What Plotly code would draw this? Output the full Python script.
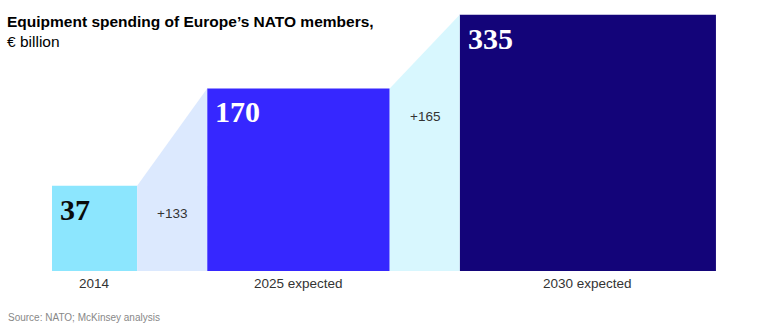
import math
import plotly.graph_objects as go

# Data
categories = ["2014", "2025 expected", "2030 expected"]
values = [37, 170, 335]
increments = ["+133", "+165"]
bar_colors = ["#8ce6fe", "#3627ff", "#130479"]
value_colors = ["#0a0a0a", "#ffffff", "#ffffff"]
bridge_colors = ["#dce9fe", "#d8f7fe"]

# Each bar is a square whose side is proportional to sqrt(value)
PX = 14.0            # pixels per axis unit (same on both axes)
GAP = 5.0            # axis units between neighbouring squares
W, H = 784, 336
X0_PX, BASE_PX = 52, 271

sides = [math.sqrt(v) for v in values]
lefts = []
pos = 0.0
for s in sides:
    lefts.append(pos)
    pos += s + GAP
centers = [l + s / 2 for l, s in zip(lefts, sides)]
rights = [l + s for l, s in zip(lefts, sides)]

fig = go.Figure()

# Bridging trapezoids between consecutive squares
for i in range(len(values) - 1):
    fig.add_trace(go.Scatter(
        x=[rights[i], rights[i], lefts[i + 1], lefts[i + 1]],
        y=[0, sides[i], sides[i + 1], 0],
        fill="toself", fillcolor=bridge_colors[i],
        line=dict(width=0), mode="lines", hoverinfo="skip",
    ))

fig.add_trace(go.Bar(
    x=centers, y=sides, width=sides, base=0,
    marker=dict(color=bar_colors, line=dict(width=0)),
    hoverinfo="skip",
))

annotations = []
for c, l, s, v, col, cat in zip(centers, lefts, sides, values, value_colors, categories):
    annotations.append(dict(
        x=l, y=s, xref="x", yref="y", text=f"<b>{v}</b>", showarrow=False,
        xanchor="left", yanchor="top", xshift=6, yshift=-5,
        font=dict(family="Liberation Serif", size=30, color=col),
    ))
    annotations.append(dict(
        x=c, y=0, xref="x", yref="y", text=cat, showarrow=False,
        xanchor="center", yanchor="top", yshift=-3,
        font=dict(family="Liberation Sans, Arial", size=13.5, color="#333333"),
    ))

for i, inc in enumerate(increments):
    annotations.append(dict(
        x=(rights[i] + lefts[i + 1]) / 2, y=sides[i], xref="x", yref="y",
        text=inc, showarrow=False, xanchor="center", yanchor="middle",
        yshift=-28,
        font=dict(family="Liberation Sans, Arial", size=13.5, color="#333333"),
    ))

annotations += [
    dict(x=5 / W, y=1 - 11 / H, xref="paper", yref="paper", showarrow=False,
         xanchor="left", yanchor="top",
         text="<b>Equipment spending of Europe’s NATO members,</b><br>€ billion",
         align="left",
         font=dict(family="Liberation Sans, Arial", size=15.5, color="#000000")),
    dict(x=6 / W, y=1 - 317 / H, xref="paper", yref="paper", showarrow=False,
         xanchor="left", yanchor="middle", text="Source: NATO; McKinsey analysis",
         font=dict(family="Liberation Sans, Arial", size=10, color="#888888")),
]

fig.update_layout(
    width=W, height=H, margin=dict(l=0, r=0, t=0, b=0),
    paper_bgcolor="white", plot_bgcolor="white",
    showlegend=False, annotations=annotations,
    xaxis=dict(range=[-X0_PX / PX, (W - X0_PX) / PX], visible=False, fixedrange=True),
    yaxis=dict(range=[-(H - BASE_PX) / PX, BASE_PX / PX], visible=False, fixedrange=True),
)

fig.write_html("out.html")
